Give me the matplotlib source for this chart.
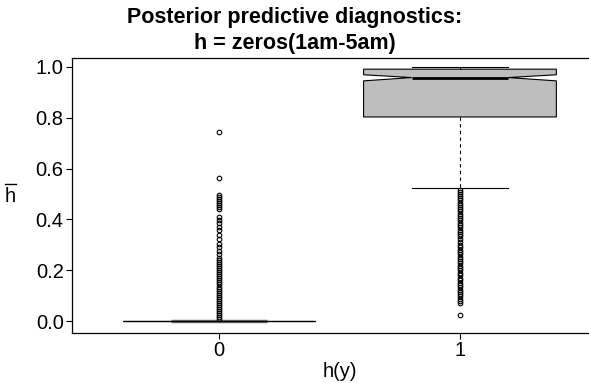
import matplotlib
matplotlib.use("Agg")
import matplotlib.pyplot as plt
from matplotlib.lines import Line2D
from matplotlib.ticker import FormatStrFormatter

plt.rcParams['font.family'] = ['Liberation Sans', 'DejaVu Sans']

# groups on the x axis
groups = [0, 1]
tick_labels = ['0', '1']

# box statistics
q1 = [0.0, 0.803]
med = [0.0, 0.958]
q3 = [0.0, 0.991]
ci_lo = [0.0, 0.945]
ci_hi = [0.0, 0.969]
whis_lo = [0.0, 0.525]
whis_hi = [0.0, 1.0]

# outliers
fliers_0 = [0.745, 0.563, 0.495, 0.487, 0.479, 0.471, 0.463, 0.455, 0.447, 0.44,
            0.41, 0.398, 0.386, 0.372, 0.36, 0.34, 0.322, 0.305, 0.29, 0.275,
            0.262, 0.25, 0.24, 0.232, 0.224, 0.216, 0.208, 0.2, 0.192, 0.184,
            0.176, 0.168, 0.16, 0.152, 0.144, 0.136, 0.128, 0.12, 0.112, 0.104,
            0.096, 0.088, 0.08, 0.072, 0.064, 0.056, 0.048, 0.04, 0.032, 0.024,
            0.016, 0.008]
fliers_1 = [0.515, 0.507, 0.499, 0.491, 0.483, 0.475, 0.466, 0.457, 0.448, 0.44,
            0.432, 0.423, 0.414, 0.405, 0.396, 0.387, 0.378, 0.369, 0.36, 0.351,
            0.342, 0.333, 0.322, 0.31, 0.3, 0.29, 0.281, 0.272, 0.263, 0.254,
            0.245, 0.236, 0.227, 0.218, 0.209, 0.2, 0.19, 0.18, 0.17, 0.16,
            0.151, 0.142, 0.133, 0.124, 0.115, 0.106, 0.097, 0.088, 0.079, 0.07,
            0.022]
fliers = [fliers_0, fliers_1]

stats = []
for i in range(len(groups)):
    stats.append(dict(med=med[i], q1=q1[i], q3=q3[i], cilo=ci_lo[i], cihi=ci_hi[i],
                      whislo=whis_lo[i], whishi=whis_hi[i], fliers=fliers[i]))

fig = plt.figure(figsize=(5.89, 3.83), dpi=100)
ax = fig.add_axes([0.1222, 0.1305, 0.9083, 0.7181])

bp = ax.bxp(stats, positions=groups, widths=0.8, capwidths=0.4, shownotches=True,
            patch_artist=True,
            boxprops=dict(facecolor='#BEBEBE', edgecolor='black', linewidth=0.8),
            medianprops=dict(color='black', linewidth=2),
            whiskerprops=dict(color='black', linewidth=0.8, linestyle=(0, (3, 3))),
            capprops=dict(color='black', linewidth=0.8),
            flierprops=dict(marker='o', markerfacecolor='none', markeredgecolor='black',
                            markersize=3.3, markeredgewidth=0.8, linestyle='none'))
bp['medians'][0].set_color('#7a7a7a')
bp['medians'][0].set_linewidth(2.5)
bp['medians'][0].set_zorder(1)

ax.set_xlim(-0.61, 1.61)
ax.set_ylim(-0.047, 1.035)
ax.set_xticks(groups)
ax.set_xticklabels(tick_labels)
ax.set_yticks([0.0, 0.2, 0.4, 0.6, 0.8, 1.0])
ax.yaxis.set_major_formatter(FormatStrFormatter('%.1f'))
ax.tick_params(labelsize=14.5, length=4, width=0.8, color='black', pad=2)
for s in ax.spines.values():
    s.set_linewidth(0.9)
ax.spines['right'].set_visible(False)

ax.set_xlabel('h(y)', fontsize=14.5, labelpad=1)

# y label: h with a bar over it
fig.text(10.5 / 589, 1 - 196 / 383, 'h', ha='center', va='center', fontsize=14.5)
fig.add_artist(Line2D([4.5 / 589, 16 / 589], [1 - 183.5 / 383, 1 - 183.5 / 383],
                      color='black', linewidth=1.0))

fig.text(0.5, 0.982, 'Posterior predictive diagnostics:\nh = zeros(1am-5am)',
         ha='center', va='top', fontsize=15.5, fontweight='bold', linespacing=1.3)

fig.savefig('out.png', dpi=100)
